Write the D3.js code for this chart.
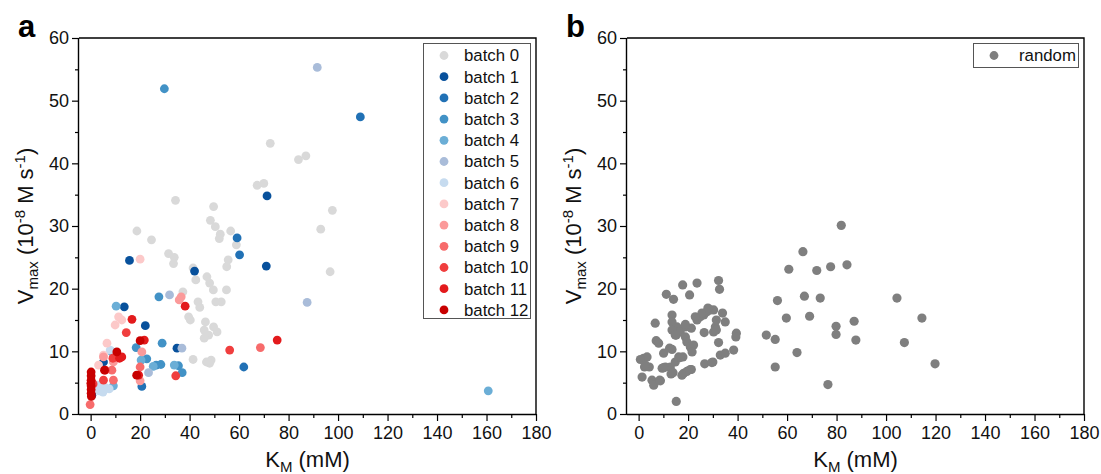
<!DOCTYPE html>
<html>
<head>
<meta charset="utf-8">
<script src="https://cdn.jsdelivr.net/npm/d3@7"></script>
<style>
  body { margin: 0; background: #fff; }
  svg { font-family: "Liberation Sans", Arial, sans-serif; }
</style>
</head>
<body>
<svg id="chart"></svg>
<script>
// [K_M (mM), Vmax (1e-8 M/s)]
const batch0 = [[18.7,29.2],[24.6,27.8],[31.5,25.6],[33.8,25.0],[33.5,24.0],[34.3,34.1],[49.7,33.1],[48.4,30.9],
  [50.4,29.9],[52.4,28.7],[52,28.0],[56.6,29.2],[67.3,36.5],[70,36.8],[72.6,43.2],[84.0,40.6],[87.0,41.2],
  [97.7,32.5],[93,29.5],[96.8,22.7],[58.9,27.0],[55.6,24.6],[55,23.5],[54.9,19.8],[47,21.9],[48.1,20.9],
  [49.6,19.8],[50.6,17.9],[52.8,17.9],[42.5,21.4],[41.4,23.3],[37.3,19.5],[43.4,17.9],[44.1,17.0],[39.6,15.5],
  [40.3,15.0],[46.4,14.7],[45.9,13.4],[47.7,12.6],[49.7,13.9],[51.1,13.1],[45.9,12.1],[41.4,8.7],[46.8,8.3],
  [48.7,8.6],[48.1,8.1]];
const batch1 = [[15.7,24.5],[42,22.8],[22.1,14.1],[34.9,10.5],[71.3,34.8],[71,23.6],[13.6,17.1],[5.2,8.3],[0.5,3.0]];
const batch2 = [[59.2,28.1],[60.2,25.4],[109,47.4],[61.9,7.5],[20.7,4.4]];
const batch3 = [[29.8,51.9],[27.6,18.7],[28.9,11.3],[18.4,10.6],[22.7,8.8],[26.5,7.8],[28.4,7.9],[35.5,7.7],[37.0,6.6],[8.6,9.9]];
const batch4 = [[160.7,3.7],[10.3,17.2],[20.4,8.6],[33.8,7.8],[9.2,4.5],[25.3,7.6]];
const batch5 = [[91.6,55.3],[87.5,17.8],[31.9,19.0],[36.9,10.5],[23.4,6.6]];
const batch6 = [[3.5,3.7],[4.5,4.0],[6.0,4.2],[7.5,4.0],[5,3.5],[3,4.6],[7.9,10.2]];
const batch7 = [[20,24.7],[11.3,15.5],[12.6,15.0],[9.9,14.2],[6.6,11.3],[5.2,9.4],[3.2,7.8]];
const batch8 = [[36.6,18.7],[20.7,9.9],[20,5.3],[5.2,9.1],[9.2,8.3],[35.8,18.2]];
const batch9 = [[68.6,10.6],[-0.2,1.5],[20,7.5],[9.2,5.4],[8.6,7.0]];
const batch10 = [[14.4,13.0],[56.2,10.2],[34.4,6.1],[5.9,7.0],[5.2,5.4],[9.0,8.9],[1.0,4.8]];
const batch11 = [[75.4,11.8],[38.2,17.2],[16.7,15.1],[21.7,11.8],[11.7,8.9],[12.6,9.1],[19.4,6.2]];
const batch12 = [[0.2,6.7],[0.2,6.1],[0.2,5.4],[0.1,4.9],[0.2,4.5],[0.2,3.9],[0.2,3.3],[0.3,2.8],
  [10.6,9.9],[20,11.7],[5.6,7.0],[18.6,6.2]];

const randomPts = [[1.4,5.9],[2,8.9],[3.4,9.1],[2.4,7.5],[4.3,7.5],[5.4,5.4],[6.1,4.6],[8.8,5.3],[6.7,14.5],
  [7.1,11.7],[8.1,11.3],[10.1,9.7],[9.5,7.3],[10.8,7.5],[11.2,19.1],[14.1,18.3],[13.5,15.8],[13.5,14.7],
  [12.5,10.5],[12.8,7.5],[13.1,6.4],[15.2,2.0],[15.5,13.9],[15.2,12.6],[16.8,13.1],[14.8,8.3],[16.2,9.1],
  [17.8,20.6],[18.9,13.9],[18.9,12.3],[19.5,11.5],[17.9,9.1],[18.2,6.5],[19.5,6.8],[20.6,19.0],[21.3,13.7],
  [20.9,10.7],[22.2,11.0],[21.6,9.9],[21.3,7.1],[23.6,20.9],[23.6,15.0],[24.9,15.5],[26.5,13.0],[26.3,15.8],
  [27.6,16.3],[26.7,8.0],[29,16.6],[30.3,16.6],[30,8.3],[30.3,13.1],[31,13.9],[31.4,15.0],[32.3,21.3],
  [32.7,19.9],[32.3,11.4],[33,9.4],[35,9.7],[33.9,16.1],[35,14.7],[38.4,10.2],[39.5,12.9],[39.3,12.3],
  [0.7,8.7],[2.7,7.8],[8.5,5.4],[10.1,7.4],[13.9,6.6],[17.5,6.2],[20.9,7.1],[29.6,8.2],[25.6,16.1],[28,16.9],
  [31.4,13.4],[22.9,15.5],[18.9,14.3],[13.5,13.4],[14.8,12.6],[16.8,9.0],[13.5,10.3],
  [51.6,12.6],[55.2,11.9],[55.2,7.5],[56.1,18.1],[59.7,15.3],[60.7,23.1],[64,9.8],[66.4,25.9],[67,18.8],
  [69.1,15.6],[72,22.9],[73.4,18.5],[77.6,23.5],[76.5,4.7],[81.9,30.1],[84.2,23.8],[104.4,18.5],[79.8,14.0],
  [79.8,12.7],[87.1,14.8],[87.8,11.8],[114.5,15.3],[107.4,11.4],[119.8,8.0]];

const batchNames = ["batch 0","batch 1","batch 2","batch 3","batch 4","batch 5","batch 6",
  "batch 7","batch 8","batch 9","batch 10","batch 11","batch 12"];
const batchColors = ["#d9d9d9","#08519c","#2171b5","#4292c6","#6baed6","#a9bcd9","#c6dbef",
  "#fcc9c9","#fb9a9a","#f76b6b","#f03e3e","#e31a1c","#c80000"];
const batchData = [batch0,batch1,batch2,batch3,batch4,batch5,batch6,batch7,batch8,batch9,batch10,batch11,batch12];

const xTicks = [0,20,40,60,80,100,120,140,160,180];
const yTicks = [0,10,20,30,40,50,60];

const width = 1101, height = 474;
const svg = d3.select("#chart").attr("width", width).attr("height", height);

function panel(left, label) {
  const right = left + 457, top = 38, bottom = 414;
  const x = d3.scaleLinear().domain([-4.7, 180]).range([left, right]);
  const y = d3.scaleLinear().domain([0, 60]).range([bottom, top]);
  const g = svg.append("g");

  // frame top/right
  g.append("path")
    .attr("d", `M${left},${top}H${right}V${bottom}`)
    .attr("fill", "none").attr("stroke", "#000").attr("stroke-width", 1.4);

  // minor ticks
  g.append("g").attr("transform", `translate(0,${bottom})`)
    .call(d3.axisBottom(x).tickValues(d3.range(10, 180, 20)).tickSize(4).tickFormat(""))
    .call(a => a.select(".domain").remove())
    .selectAll("line").attr("stroke-width", 1.2);
  g.append("g").attr("transform", `translate(${left},0)`)
    .call(d3.axisLeft(y).tickValues(d3.range(5, 60, 10)).tickSize(4).tickFormat(""))
    .call(a => a.select(".domain").remove())
    .selectAll("line").attr("stroke-width", 1.2);

  const xa = g.append("g").attr("transform", `translate(0,${bottom})`)
    .call(d3.axisBottom(x).tickValues(xTicks).tickSize(7).tickPadding(5).tickSizeOuter(0));
  xa.select(".domain").attr("d", `M${left},0.5H${right}`).attr("stroke-width", 1.4);
  xa.selectAll("text").attr("font-size", 18).attr("font-family", "Liberation Sans, Arial").attr("fill", "#111");
  xa.selectAll("line").attr("stroke-width", 1.2);

  const ya = g.append("g").attr("transform", `translate(${left},0)`)
    .call(d3.axisLeft(y).tickValues(yTicks).tickSize(7).tickPadding(3).tickSizeOuter(0));
  ya.select(".domain").attr("d", `M-0.5,${top}V${bottom}`).attr("stroke-width", 1.4);
  ya.selectAll("text").attr("font-size", 18).attr("font-family", "Liberation Sans, Arial").attr("fill", "#111");
  ya.selectAll("line").attr("stroke-width", 1.2);

  // axis titles
  const xt = g.append("text").attr("x", (left + right) / 2).attr("y", 467)
    .attr("text-anchor", "middle").attr("font-size", 22).attr("fill", "#111");
  xt.append("tspan").text("K");
  xt.append("tspan").attr("font-size", 15).attr("dy", 5).text("M");
  xt.append("tspan").attr("dy", -5).text(" (mM)");

  const yt = g.append("text").attr("transform", `translate(${left - 46},${(top + bottom) / 2}) rotate(-90)`)
    .attr("text-anchor", "middle").attr("font-size", 22).attr("fill", "#111");
  yt.append("tspan").text("V");
  yt.append("tspan").attr("font-size", 15).attr("dy", 5).text("max");
  yt.append("tspan").attr("dy", -5).text(" (10");
  yt.append("tspan").attr("font-size", 15).attr("dy", -8).text("-8");
  yt.append("tspan").attr("dy", 8).text(" M s");
  yt.append("tspan").attr("font-size", 15).attr("dy", -8).text("-1");
  yt.append("tspan").attr("dy", 8).text(")");

  g.append("text").attr("x", left - 61).attr("y", 37).attr("font-size", 31)
    .attr("font-weight", "bold").attr("fill", "#000").text(label);

  return {g, x, y};
}

// panel a
const pa = panel(79, "a");
batchData.forEach((pts, i) => {
  pa.g.append("g").selectAll("circle").data(pts).join("circle")
    .attr("cx", d => pa.x(d[0])).attr("cy", d => pa.y(d[1]))
    .attr("r", 4.4).attr("fill", batchColors[i]);
});
const legA = pa.g.append("g");
legA.append("rect").attr("x", 423.5).attr("y", 43.5).attr("width", 107).attr("height", 275)
  .attr("fill", "#fff").attr("stroke", "#555").attr("stroke-width", 1);
batchNames.forEach((n, i) => {
  const yy = 55.5 + i * 21.2;
  legA.append("circle").attr("cx", 444).attr("cy", yy).attr("r", 4.4).attr("fill", batchColors[i]);
  legA.append("text").attr("x", 464).attr("y", yy).attr("dy", "0.35em")
    .attr("font-size", 16.8).attr("fill", "#111").text(n);
});

// panel b
const pb = panel(627, "b");
pb.g.append("g").selectAll("circle").data(randomPts).join("circle")
  .attr("cx", d => pb.x(d[0])).attr("cy", d => pb.y(d[1]))
  .attr("r", 4.6).attr("fill", "#7f7f7f");
const legB = pb.g.append("g");
legB.append("rect").attr("x", 973.5).attr("y", 43.5).attr("width", 105).attr("height", 24)
  .attr("fill", "#fff").attr("stroke", "#555").attr("stroke-width", 1);
legB.append("circle").attr("cx", 994).attr("cy", 55.5).attr("r", 4.4).attr("fill", "#7f7f7f");
legB.append("text").attr("x", 1019).attr("y", 55.5).attr("dy", "0.35em")
  .attr("font-size", 16.8).attr("fill", "#111").text("random");
</script>
</body>
</html>
